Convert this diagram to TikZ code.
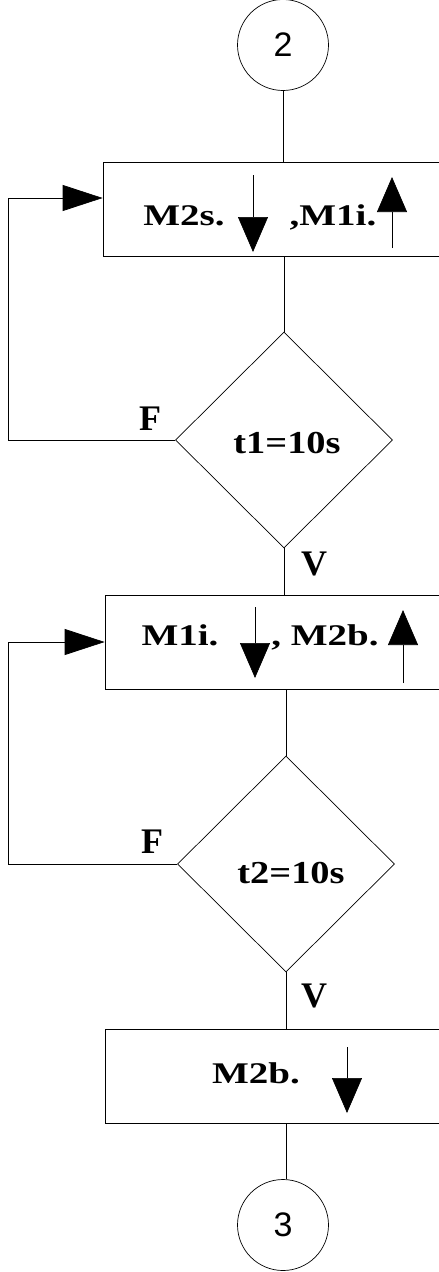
\documentclass[tikz,border=0pt]{standalone}
\usepackage{fontspec}
\setmainfont{Liberation Serif}
\newfontfamily\digitfont{Liberation Sans}
\usetikzlibrary{shapes.geometric,arrows.meta}
\newcommand{\wide}[2]{\scalebox{#1}[1]{#2}}
\begin{document}
\begin{tikzpicture}[x=1pt,y=-1pt,line width=0.7pt,
  boxnode/.style={draw,rectangle,minimum width=362pt,minimum height=94pt,inner sep=0pt},
  decnode/.style={draw,diamond,minimum width=217pt,minimum height=216pt,inner sep=0pt},
  conn/.style={draw,circle,minimum size=91pt,inner sep=0pt,font=\digitfont\fontsize{34}{38}\selectfont},
  boxtext/.style={anchor=base,inner sep=0pt,font=\bfseries\fontsize{30}{34}\selectfont},
  dectext/.style={anchor=base,inner sep=0pt,font=\bfseries\fontsize{32}{36}\selectfont},
  lab/.style={anchor=base,inner sep=0pt,font=\bfseries\fontsize{36}{40}\selectfont},
  looptip/.style={-{Triangle[length=40pt,width=26pt]}},
  symtip/.style={-{Triangle[length=35pt,width=30pt]}}
]
\useasboundingbox (0,0) rectangle (439,1272);
\clip (0,0) rectangle (439,1272);

% nodes
\node[conn] (c2) at (283,45) {2};
\node[boxnode] (b1) at (284,209) {};
\node[decnode] (d1) at (284,440) {};
\node[boxnode] (b2) at (286,642) {};
\node[decnode] (d2) at (286,864) {};
\node[boxnode] (b3) at (286,1076) {};
\node[conn] (c3) at (283,1225) {3};

% texts
\node[boxtext] (t1a) at (184,225) {\wide{1.3}{M2s.}};
\node[boxtext] (t1b) at (333,225) {\wide{1.3}{,M1i.}};
\node[boxtext] (t2a) at (180,645) {\wide{1.3}{M1i.}};
\node[boxtext] (t2b) at (325,645) {\wide{1.3}{, M2b.}};
\node[boxtext] (t3a) at (256,1083) {\wide{1.3}{M2b.}};
\node[dectext] (q1) at (287,453) {\wide{1.2}{t1=10s}};
\node[dectext] (q2) at (291,883) {\wide{1.2}{t2=10s}};
\node[lab] (f1) at (150,430) {F};
\node[lab] (f2) at (152,853) {F};
\node[lab] (v1) at (314,575) {V};
\node[lab] (v2) at (314,1007) {V};

% symbol arrows inside boxes
\draw[symtip] (253,175) -- (253,252);
\draw[symtip] (392,248) -- (392,177);
\draw[symtip] (255,607) -- (255,678);
\draw[symtip] (403,683) -- (403,610);
\draw[symtip] (347,1047) -- (347,1113);

% connectors
\draw (c2.south) -- (c2.south |- b1.north);
\draw (b1.south) -- (b1.south |- d1.north);
\draw (d1.south) -- (d1.south |- b2.north);
\draw (b2.south) -- (b2.south |- d2.north);
\draw (d2.south) -- (d2.south |- b3.north);
\draw (b3.south) -- (b3.south |- c3.north);

% loops
\coordinate (l1) at (8,440);
\coordinate (l2) at (8,864);
\draw[looptip] (d1.west) -- (l1) |- ([yshift=11pt]b1.west);
\draw[looptip] (d2.west) -- (l2) |- (b2.west);
\end{tikzpicture}
\end{document}
